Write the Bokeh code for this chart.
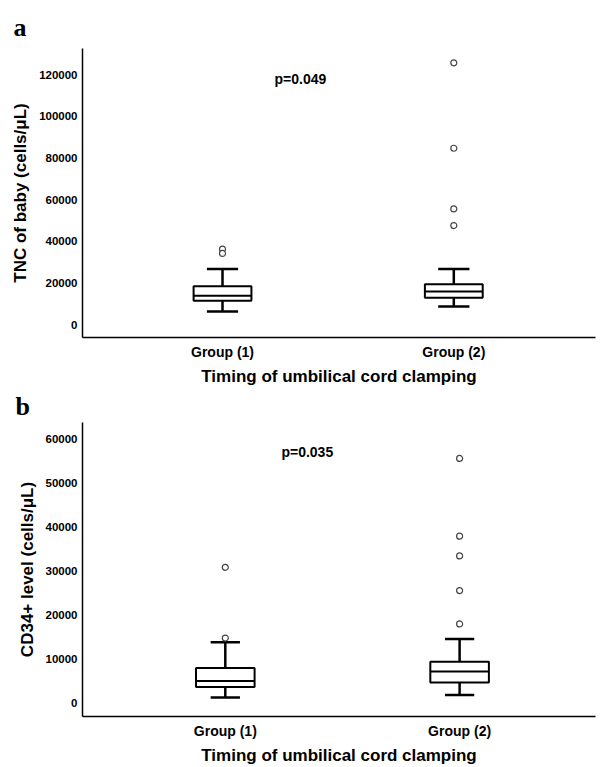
from bokeh.plotting import figure
from bokeh.layouts import column
from bokeh.models import FixedTicker, BasicTickFormatter, Label, Range1d
from bokeh.embed import file_html
from bokeh.resources import INLINE

# ---------------- data ----------------
group_pos = [1, 2]
group_labels = ["Group (1)", "Group (2)"]
x_title = "Timing of umbilical cord clamping"

# panel a: TNC of baby
a_lower = [6200, 8600]
a_q1 = [11400, 12800]
a_median = [13800, 15800]
a_q3 = [18400, 19300]
a_upper = [26700, 26700]
a_out_g1 = [36200, 34100]
a_out_g2 = [125600, 84600, 55500, 47500]
a_ticks = [0, 20000, 40000, 60000, 80000, 100000, 120000]
a_ylabel = "TNC of baby (cells/\u03bcL)"
a_p = "p=0.049"

# panel b: CD34+
b_lower = [1150, 1750]
b_q1 = [3550, 4600]
b_median = [4900, 7100]
b_q3 = [7850, 9300]
b_upper = [13750, 14500]
b_out_g1 = [30800, 14700]
b_out_g2 = [55600, 37900, 33400, 25500, 17900]
b_ticks = [0, 10000, 20000, 30000, 40000, 50000, 60000]
b_ylabel = "CD34+ level (cells/\u03bcL)"
b_p = "p=0.035"

FONT = "Liberation Sans"


def make_panel(letter, ylabel, ticks, lower, q1, med, q3, upper, out1, out2, ptext,
               xr, yr, height, top, bottom, left, right, letter_offset, letter_standoff,
               p_pos, cap_w):
    p = figure(width=601, height=height, output_backend="svg", toolbar_location=None,
               x_range=Range1d(*xr), y_range=Range1d(*yr),
               min_border_left=left, min_border_right=right,
               min_border_top=top, min_border_bottom=bottom)
    p.outline_line_color = None
    p.xgrid.visible = False
    p.ygrid.visible = False
    p.background_fill_color = "white"
    p.border_fill_color = "white"

    # panel letter as title
    p.title.text = letter
    p.title.align = "left"
    p.title.offset = letter_offset
    p.title.standoff = letter_standoff
    p.title.text_font = "Liberation Serif"
    p.title.text_font_style = "bold"
    p.title.text_font_size = "26px"
    p.title.text_color = "black"

    # axes
    p.yaxis.ticker = FixedTicker(ticks=ticks)
    p.yaxis.formatter = BasicTickFormatter(use_scientific=False)
    p.xaxis.ticker = FixedTicker(ticks=group_pos)
    p.xaxis.major_label_overrides = {g: l for g, l in zip(group_pos, group_labels)}
    for ax in (p.xaxis, p.yaxis):
        ax.axis_line_width = 1.5
        ax.axis_line_color = "black"
        ax.major_tick_line_color = None
        ax.minor_tick_line_color = None
        ax.major_tick_out = 0
        ax.major_tick_in = 0
        ax.major_label_text_font = FONT
        ax.major_label_text_font_style = "bold"
        ax.major_label_text_color = "black"
        ax.axis_label_text_font = FONT
        ax.axis_label_text_font_style = "bold"
        ax.axis_label_text_color = "black"
        ax.axis_label_text_font_size = "17px"
    p.yaxis.major_label_text_font_size = "11.5px"
    p.yaxis.major_label_standoff = 5
    p.xaxis.major_label_text_font_size = "14px"
    p.xaxis.major_label_standoff = 6
    p.yaxis.axis_label = ylabel
    p.xaxis.axis_label = x_title
    p.yaxis.axis_label_standoff = 6
    p.xaxis.axis_label_standoff = 4

    bw = 0.25
    # whiskers
    p.segment(x0=group_pos, y0=q3, x1=group_pos, y1=upper, line_color="black", line_width=2.5)
    p.segment(x0=group_pos, y0=lower, x1=group_pos, y1=q1, line_color="black", line_width=2.5)
    p.segment(x0=[g - cap_w / 2 for g in group_pos], y0=upper,
              x1=[g + cap_w / 2 for g in group_pos], y1=upper, line_color="black", line_width=2.5)
    p.segment(x0=[g - cap_w / 2 for g in group_pos], y0=lower,
              x1=[g + cap_w / 2 for g in group_pos], y1=lower, line_color="black", line_width=2.5)
    # boxes
    p.vbar(x=group_pos, width=bw, bottom=q1, top=q3, fill_color="white",
           line_color="black", line_width=2)
    p.segment(x0=[g - bw / 2 for g in group_pos], y0=med,
              x1=[g + bw / 2 for g in group_pos], y1=med, line_color="black", line_width=2)
    # outliers
    ox = [group_pos[0]] * len(out1) + [group_pos[1]] * len(out2)
    oy = list(out1) + list(out2)
    p.scatter(x=ox, y=oy, marker="circle", size=6, fill_color="white",
              line_color="#444444", line_width=1.2)

    p.add_layout(Label(x=p_pos[0], y=p_pos[1], text=ptext, text_font=FONT,
                       text_font_style="bold", text_font_size="14px",
                       text_align="center", text_baseline="middle", text_color="black"))
    return p


pa = make_panel("a", a_ylabel, a_ticks, a_lower, a_q1, a_median, a_q3, a_upper,
                a_out_g1, a_out_g2, a_p,
                xr=(0.3947, 2.6126), yr=(-6240, 132480), height=388, top=48, bottom=51,
                left=82, right=6, letter_offset=-69, letter_standoff=14,
                p_pos=(1.337, 118080), cap_w=0.135)

pb = make_panel("b", b_ylabel, b_ticks, b_lower, b_q1, b_median, b_q3, b_upper,
                b_out_g1, b_out_g2, b_p,
                xr=(0.3905, 2.580), yr=(-3170, 63780), height=379, top=32, bottom=51,
                left=79, right=0, letter_offset=-67, letter_standoff=3,
                p_pos=(1.35, 57100), cap_w=0.125)

layout = column(pa, pb, spacing=0)
open("out.html", "w").write(file_html(layout, INLINE))
